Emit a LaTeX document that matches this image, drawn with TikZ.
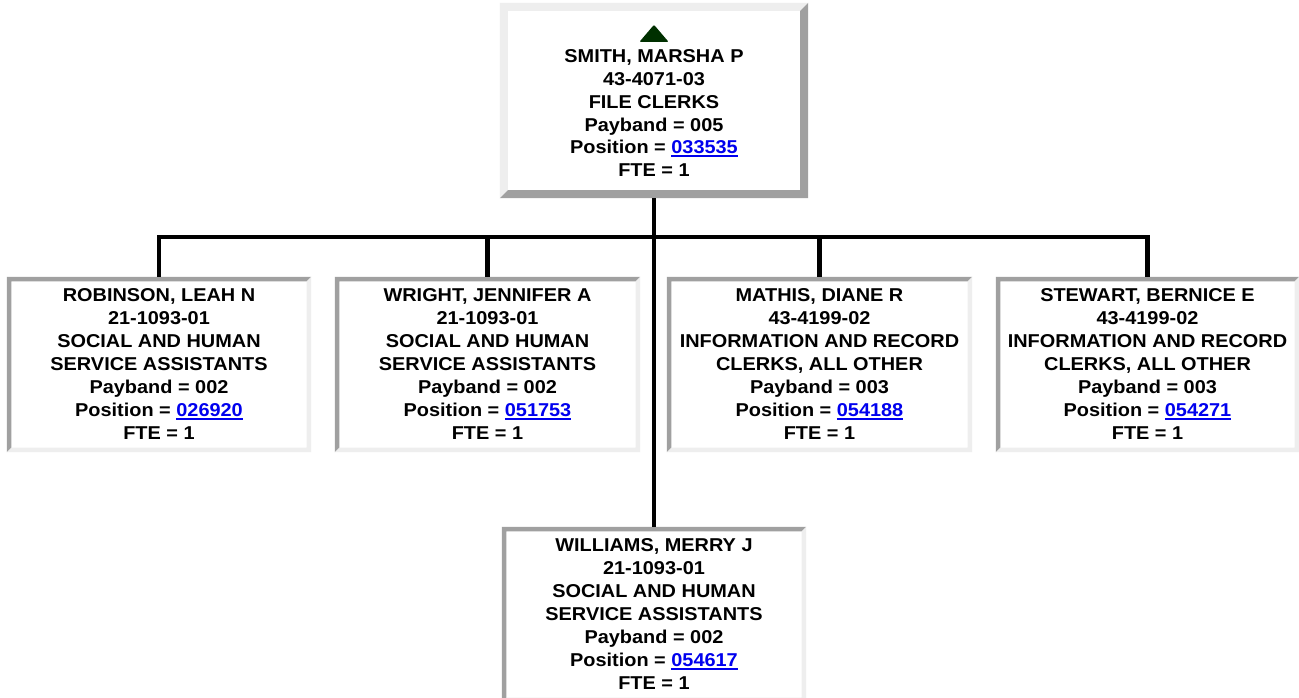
\documentclass[tikz,border=0pt]{standalone}
\usepackage{fontspec}
\newfontfamily\orgfont{Liberation Sans}[FakeStretch=1.07]
\usepackage{tikz}
\usepackage{xcolor}

\definecolor{bevdark}{HTML}{A0A0A0}
\definecolor{bevlight}{HTML}{EEEEEE}
\definecolor{linkblue}{HTML}{0000EE}
\definecolor{upgreen}{RGB}{0,48,0}

% bevelled frame: node, top-left colour, bottom-right colour, width
\newcommand{\bevel}[4]{%
  \fill[#2] (#1.south west) -- (#1.north west) -- (#1.north east)
    -- ([shift={(-#4,#4)}]#1.north east) -- ([shift={(#4,#4)}]#1.north west)
    -- ([shift={(#4,-#4)}]#1.south west) -- cycle;
  \fill[#3] (#1.south west) -- (#1.south east) -- (#1.north east)
    -- ([shift={(-#4,#4)}]#1.north east) -- ([shift={(-#4,-#4)}]#1.south east)
    -- ([shift={(#4,-#4)}]#1.south west) -- cycle;}
\newcommand{\poslink}[1]{{\color{linkblue}\setbox0\hbox{#1}\rlap{\rule[-2.6pt]{\wd0}{1.6pt}}\box0}}

\begin{document}
\begin{tikzpicture}[x=1pt, y=-1pt,
  box/.style={inner sep=0pt, align=center,
              font=\orgfont\bfseries\fontsize{18.6}{23}\selectfont},
  headbox/.style={box, minimum width=308, minimum height=195},
  staff/.style={box, minimum height=175},
  wire/.style={line width=4.3pt},
  upmark/.style={fill=upgreen, rounded corners=1pt}]
\useasboundingbox (0,0) rectangle (1299,698);
\fill[white] (0,0) rectangle (1299,698);
\clip (0,0) rectangle (1299,698);

\node[headbox] (smith) at (654,100.5) {\rule{0pt}{15pt}\\SMITH, MARSHA P\\
  43-4071-03\\FILE CLERKS\\Payband = 005\\Position = \poslink{033535}\\FTE = 1};
\node[staff, minimum width=304] (robinson) at (159,364.5) {ROBINSON, LEAH N\\
  21-1093-01\\SOCIAL AND HUMAN\\SERVICE ASSISTANTS\\Payband = 002\\
  Position = \poslink{026920}\\FTE = 1};
\node[staff, minimum width=305] (wright) at (487.5,364.5) {WRIGHT, JENNIFER A\\
  21-1093-01\\SOCIAL AND HUMAN\\SERVICE ASSISTANTS\\Payband = 002\\
  Position = \poslink{051753}\\FTE = 1};
\node[staff, minimum width=305] (mathis) at (819.5,364.5) {MATHIS, DIANE R\\
  43-4199-02\\INFORMATION AND RECORD\\CLERKS, ALL OTHER\\Payband = 003\\
  Position = \poslink{054188}\\FTE = 1};
\node[staff, minimum width=303] (stewart) at (1147.5,364.5) {STEWART, BERNICE E\\
  43-4199-02\\INFORMATION AND RECORD\\CLERKS, ALL OTHER\\Payband = 003\\
  Position = \poslink{054271}\\FTE = 1};
\node[staff, minimum width=304] (williams) at (654,614.5) {WILLIAMS, MERRY J\\
  21-1093-01\\SOCIAL AND HUMAN\\SERVICE ASSISTANTS\\Payband = 002\\
  Position = \poslink{054617}\\FTE = 1};

% frames
\bevel{smith}{bevlight}{bevdark}{8}
\bevel{robinson}{bevdark}{bevlight}{4.5}
\bevel{wright}{bevdark}{bevlight}{4.5}
\bevel{mathis}{bevdark}{bevlight}{4.5}
\bevel{stewart}{bevdark}{bevlight}{4.5}
\bevel{williams}{bevdark}{bevlight}{4.5}

% up marker
\path (smith.north) ++(0,22) coordinate (up);
\fill[upmark] (up) -- ++(14.5,17) -- ++(-29,0) -- cycle;

% connectors
\coordinate (bus) at (654,237);
\draw[wire] (smith.south) -- (williams.north);
\draw[wire] (robinson.north) |- (bus) -| (stewart.north);
\draw[wire] (wright.north) |- (bus) -| (mathis.north);
\end{tikzpicture}
\end{document}
